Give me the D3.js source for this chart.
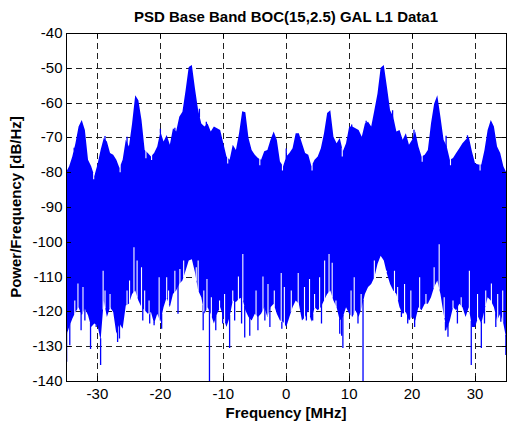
<!DOCTYPE html>
<html>
<head>
<meta charset="utf-8">
<script src="https://cdn.jsdelivr.net/npm/d3@7"></script>
<style>
  html, body { margin: 0; padding: 0; background: #fff; }
  svg { display: block; }
  text { font-family: "Liberation Sans", Arial, Helvetica, sans-serif; fill: #000; }
</style>
</head>
<body>
<svg id="chart" width="509" height="422"></svg>
<script>
// Frequency grid of the envelope samples (MHz), 0.5 MHz spacing
const freqStart = -35, freqStep = 0.5;

// Upper envelope of the PSD trace (dB/Hz), one value per grid step from -35 to 35 MHz
const upperDb = [
  -80.0, -78.3, -75.5, -71.7, -66.9, -65.0, -67.9, -76.4, -78.3, -81.1,
  -77.8, -73.6, -70.2, -71.2, -74.5, -75.0, -76.4, -78.8, -76.4, -70.7,
  -72.6, -66.0, -57.9, -59.3, -65.0, -73.6, -74.5, -75.5, -74.5, -72.6,
  -68.3, -71.2, -69.3, -72.1, -67.4, -68.3, -64.1, -62.6, -56.5, -49.8,
  -49.2, -56.0, -62.2, -66.0, -66.9, -66.0, -68.3, -66.9, -67.4, -67.9,
  -71.7, -75.5, -76.4, -72.1, -73.6, -68.8, -62.5, -62.8, -70.2, -73.6,
  -75.0, -75.9, -76.4, -74.0, -73.6, -70.7, -68.3, -70.7, -76.9, -78.3,
  -75.5, -74.5, -73.1, -68.8, -68.8, -71.7, -74.5, -75.0, -78.3, -76.4,
  -75.5, -73.1, -68.8, -63.0, -62.2, -69.8, -71.7, -70.2, -74.0, -71.7,
  -66.9, -66.9, -67.4, -67.9, -69.8, -66.0, -65.5, -66.9, -62.2, -57.4,
  -50.0, -49.2, -55.5, -62.2, -64.1, -68.3, -67.9, -70.7, -68.8, -72.1,
  -70.7, -68.3, -72.6, -75.5, -75.0, -73.6, -66.0, -60.3, -57.9, -64.1,
  -70.7, -72.6, -76.4, -75.9, -74.5, -73.1, -71.7, -70.7, -69.8, -74.0,
  -77.4, -77.8, -77.8, -73.6, -67.9, -65.0, -66.9, -72.6, -74.5, -78.3,
  -80.2
];

// Lower envelope of the PSD trace (dB/Hz), same grid
const lowerDb = [
  -127.3, -124.5, -122.1, -120.2, -118.8, -121.1, -119.2, -121.1, -124.5, -123.5,
  -124.0, -128.3, -116.9, -121.6, -118.8, -120.2, -126.4, -123.5, -125.0, -118.3,
  -117.8, -115.0, -114.0, -116.9, -118.8, -119.7, -120.7, -120.2, -123.5, -120.7,
  -123.0, -118.8, -115.9, -118.8, -115.0, -114.0, -112.1, -111.1, -108.3, -105.4,
  -105.0, -108.8, -114.0, -115.9, -120.7, -118.8, -120.7, -123.5, -120.7, -118.8,
  -121.6, -124.5, -121.6, -116.9, -117.3, -116.4, -115.9, -119.7, -121.6, -122.6,
  -120.7, -121.6, -120.7, -118.8, -121.6, -118.8, -117.8, -120.7, -122.6, -123.0,
  -124.5, -121.6, -118.8, -116.9, -117.8, -122.6, -121.6, -119.7, -123.0, -118.8,
  -119.7, -118.8, -116.9, -115.0, -114.0, -116.9, -118.8, -122.6, -121.6, -118.8,
  -120.7, -121.6, -119.7, -121.6, -118.8, -115.0, -113.0, -112.1, -110.2, -106.4,
  -104.0, -105.4, -109.2, -112.1, -114.0, -115.0, -118.8, -120.7, -120.2, -122.6,
  -121.6, -122.6, -118.8, -119.7, -117.8, -117.8, -115.9, -113.0, -111.1, -115.0,
  -120.7, -125.4, -122.6, -118.8, -119.7, -117.8, -118.8, -121.6, -118.8, -124.5,
  -124.5, -121.6, -123.5, -119.7, -115.9, -116.9, -118.8, -122.6, -120.7, -123.5,
  -128.3
];

// Isolated nulls of the trace that drop below the lower envelope
const dipFreq = [
  -34.9, -34.4, -32.6, -32.0, -31.1, -30.2, -29.5, -26.8, -26.5, -22.8, -21.7, -21.0, -19.8, -17.2,
  -13.2, -12.2, -11.2, -10.1, -9.0, -8.2, -7.1, -6.6, -5.8, -4.5, -3.4, -2.6, -0.7,
  3.2, 4.2, 5.6, 8.5, 8.8, 9.0, 11.4, 12.2, 18.3, 19.3, 20.4, 25.3, 25.7, 27.2, 29.4, 31.0, 31.5, 33.3, 34.1, 34.9
];
const dipDb = [
  -134.5, -129.7, -125.4, -122.6, -130.8, -124.5, -135.4, -128.8, -127.8, -122.6, -123.5, -124.0, -125.0, -120.7,
  -125.4, -140.0, -125.4, -123.5, -130.5, -122.6, -123.5, -127.5, -127.0, -125.4, -122.6, -124.5, -125.0,
  -122.6, -122.6, -123.5, -126.4, -127.0, -130.5, -123.5, -140.0, -121.6, -123.5, -124.5, -125.5, -127.3, -123.5, -135.4, -130.5, -123.5, -124.5, -123.0, -132.5
];

// Narrow bins where the trace minimum stays above the lower envelope
const notchFreq = [
  -33.6, -33.1, -32.3, -29.1, -28.8, -28.0, -25.3, -24.9, -24.2, -23.7, -23.0, -22.5, -21.8, -20.2,
  -19.0, -18.7, -17.7, -16.9, -16.3, -14.3, -14.0, -13.1, -12.6, -11.9, -10.6, -9.8, -8.5, -7.6, -6.9,
  -4.8, -3.7, -2.9, -1.9, -0.8, -0.3, 0.8, 1.9, 2.9, 3.7, 4.5, 5.3, 6.1, 6.8, 7.3, 7.9,
  10.3, 10.8, 11.9, 14.0, 15.9, 17.2, 17.7, 18.8, 19.8, 21.2, 22.2, 23.5, 24.3, 25.1, 26.5,
  27.8, 29.1, 30.4, 31.7, 32.6, 33.6, 34.4
];
const notchDb = [
  -116.9, -112.0, -113.0, -108.3, -114.0, -115.0, -114.0, -111.1, -101.6, -105.4, -107.3, -114.0, -116.9, -110.2,
  -110.2, -114.0, -108.3, -107.8, -105.4, -107.3, -105.4, -114.0, -110.7, -115.9, -116.9, -115.0, -114.0, -110.0, -103.5,
  -114.0, -110.0, -112.1, -114.0, -109.0, -113.0, -114.0, -109.0, -113.0, -110.7, -115.0, -110.2, -105.4, -103.5, -106.0, -116.9,
  -114.0, -110.2, -115.0, -105.4, -108.3, -108.3, -113.0, -112.1, -114.0, -110.2, -115.0, -107.3, -100.7, -115.9, -116.9,
  -115.9, -108.3, -115.0, -114.0, -112.0, -115.0, -114.0
];

// Isolated maxima poking above the upper envelope
const peakFreq = [-33.7, -28.8, -25.3, -20.0, -17.7, -13.8, -12.7, 0.0, 10.4, 12.7, 16.9, 20.3, 25.4, 28.8];
const peakDb   = [-73.0, -69.6, -69.8, -67.5, -67.2, -61.8, -65.5, -73.2, -66.3, -65.2, -62.2, -67.8, -69.5, -69.4];

// Narrow bins where the trace maximum stays below the upper envelope
const gapFreq = [-30.6, -26.4, -22.3, -21.4, -9.3, -4.2, -0.6, 4.1, 8.9, 21.6, 26.1, 30.8];
const gapDb   = [-82.0, -80.0, -76.0, -76.5, -77.5, -78.0, -79.5, -79.5, -75.5, -77.0, -78.0, -79.5];

// Axis ticks
const xTicks = [-30, -20, -10, 0, 10, 20, 30];
const yTicks = [-140, -130, -120, -110, -100, -90, -80, -70, -60, -50, -40];

const titleText = "PSD Base Band BOC(15,2.5) GAL L1 Data1";
const xLabel = "Frequency [MHz]";
const yLabel = "Power/Frequency [dB/Hz]";

// ---- layout ----
const svg = d3.select("#chart");
const pL = 66, pR = 506.5, pT = 33, pB = 381;
const x = d3.scaleLinear().domain([-35, 35]).range([pL, pR]);
const y = d3.scaleLinear().domain([-140, -40]).range([pB, pT]);
const traceColor = "#0000ff";

const env = upperDb.map((u, i) => ({ f: freqStart + i * freqStep, hi: u, lo: lowerDb[i] }));
const envAt = (f, key) => {
  const t = (f - freqStart) / freqStep;
  const i = Math.max(0, Math.min(env.length - 2, Math.floor(t)));
  const k = t - i;
  return env[i][key] * (1 - k) + env[i + 1][key] * k;
};
const loAt = f => envAt(f, "lo");
const hiAt = f => envAt(f, "hi");

svg.append("defs").append("clipPath").attr("id", "plotClip")
  .append("rect").attr("x", pL).attr("y", pT).attr("width", pR - pL).attr("height", pB - pT);

// grid (drawn beneath the trace)
const grid = svg.append("g").attr("stroke", "#222").attr("stroke-width", 1)
  .attr("stroke-dasharray", "6,4").attr("shape-rendering", "crispEdges");
grid.selectAll("line.gx").data(xTicks).join("line").attr("class", "gx")
  .attr("x1", d => Math.round(x(d)) + 0.5).attr("x2", d => Math.round(x(d)) + 0.5)
  .attr("y1", pT).attr("y2", pB);
grid.selectAll("line.gy").data(yTicks.filter(v => v > -140 && v < -40)).join("line").attr("class", "gy")
  .attr("y1", d => Math.round(y(d)) + 0.5).attr("y2", d => Math.round(y(d)) + 0.5)
  .attr("x1", pL).attr("x2", pR);

// PSD trace
const plot = svg.append("g").attr("clip-path", "url(#plotClip)");
plot.append("path").datum(env)
  .attr("fill", traceColor)
  .attr("d", d3.area().x(d => x(d.f)).y0(d => y(d.lo)).y1(d => y(d.hi)).curve(d3.curveLinear));

const spikes = (fs, vs, keep) => fs.map((f, i) => ({ f, v: vs[i] })).filter(keep);

// downward nulls (blue) and high minima (white) along the lower edge
plot.selectAll("line.dip").data(spikes(dipFreq, dipDb, d => d.v < loAt(d.f))).join("line").attr("class", "dip")
  .attr("x1", d => x(d.f)).attr("x2", d => x(d.f))
  .attr("y1", d => y(loAt(d.f)) - 2).attr("y2", d => y(d.v))
  .attr("stroke", traceColor).attr("stroke-width", 1.3);
plot.selectAll("line.notch").data(spikes(notchFreq, notchDb, d => d.v > loAt(d.f))).join("line").attr("class", "notch")
  .attr("x1", d => x(d.f)).attr("x2", d => x(d.f))
  .attr("y1", d => y(loAt(d.f)) + 1).attr("y2", d => y(d.v))
  .attr("stroke", "#fff").attr("stroke-width", 1.1);

// upward maxima (blue) and low maxima (white) along the upper edge
plot.selectAll("line.peak").data(spikes(peakFreq, peakDb, d => d.v > hiAt(d.f))).join("line").attr("class", "peak")
  .attr("x1", d => x(d.f)).attr("x2", d => x(d.f))
  .attr("y1", d => y(hiAt(d.f)) + 2).attr("y2", d => y(d.v))
  .attr("stroke", traceColor).attr("stroke-width", 1.3);
plot.selectAll("line.gap").data(spikes(gapFreq, gapDb, d => d.v < hiAt(d.f))).join("line").attr("class", "gap")
  .attr("x1", d => x(d.f)).attr("x2", d => x(d.f))
  .attr("y1", d => y(hiAt(d.f)) - 1).attr("y2", d => y(d.v))
  .attr("stroke", "#fff").attr("stroke-width", 1.1);

// axes box and inward ticks on all four sides
const axes = svg.append("g").attr("stroke", "#000").attr("stroke-width", 1).attr("shape-rendering", "crispEdges");
axes.append("rect").attr("x", pL).attr("y", pT).attr("width", pR - pL).attr("height", pB - pT).attr("fill", "none");
const tl = 5;
xTicks.forEach(v => {
  const px = Math.round(x(v)) + 0.5;
  axes.append("line").attr("x1", px).attr("x2", px).attr("y1", pB).attr("y2", pB - tl);
  axes.append("line").attr("x1", px).attr("x2", px).attr("y1", pT).attr("y2", pT + tl);
});
yTicks.forEach(v => {
  const py = Math.round(y(v)) + 0.5;
  axes.append("line").attr("y1", py).attr("y2", py).attr("x1", pL).attr("x2", pL + tl);
  axes.append("line").attr("y1", py).attr("y2", py).attr("x1", pR).attr("x2", pR - tl);
});

// tick labels
svg.append("g").selectAll("text").data(xTicks).join("text")
  .attr("x", d => x(d)).attr("y", 399).attr("text-anchor", "middle")
  .attr("font-size", 15).text(d => d);
svg.append("g").selectAll("text").data(yTicks).join("text")
  .attr("x", 62.5).attr("y", d => y(d) + 5).attr("text-anchor", "end")
  .attr("font-size", 15).text(d => d);

// title and axis labels
svg.append("text").attr("x", 286).attr("y", 22).attr("text-anchor", "middle")
  .attr("font-size", 15).attr("font-weight", "bold").text(titleText);
svg.append("text").attr("x", 286).attr("y", 418).attr("text-anchor", "middle")
  .attr("font-size", 15).attr("font-weight", "bold").text(xLabel);
svg.append("text").attr("transform", `translate(21,${(pT + pB) / 2}) rotate(-90)`)
  .attr("text-anchor", "middle").attr("font-size", 15).attr("font-weight", "bold").text(yLabel);
</script>
</body>
</html>
